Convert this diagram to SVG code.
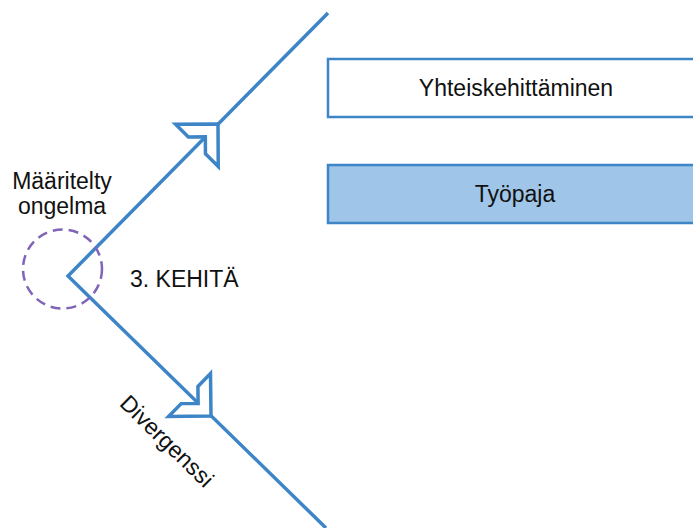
<svg xmlns="http://www.w3.org/2000/svg" width="693" height="528" viewBox="0 0 693 528">
  <style>
    .lbl { font-family: "Liberation Sans", Arial, sans-serif; font-size: 23px; fill: #111; }
    .flow { fill: none; stroke: #3d85c6; stroke-width: 3.5; stroke-linejoin: miter; }
    .head { fill: #ffffff; stroke: #3d85c6; stroke-width: 3.5; stroke-linejoin: miter; }
    .box { stroke: #3d85c6; stroke-width: 2.5; }
  </style>
  <defs>
    <!-- open notched arrowhead, tip at origin, pointing +x -->
    <path id="openHead" d="M0,0 L-30,-30 L-30,-12 L-18,0 L-30,12 L-30,30 Z"/>
  </defs>
  <rect width="693" height="528" fill="#ffffff"/>

  <!-- diverging V with its direction marks -->
  <g id="connectors">
    <polyline class="flow" points="328,13 68,276 326,528"/>
    <use href="#openHead" class="head" transform="translate(218,124) rotate(-45.33)"/>
    <use href="#openHead" class="head" transform="translate(211,416) rotate(44.33)"/>
  </g>

  <g id="problem">
    <circle cx="62.5" cy="269" r="39.5" fill="none" stroke="#8064b8" stroke-width="2.5" stroke-dasharray="10 6"/>
    <text class="lbl" x="62" y="189" text-anchor="middle">Määritelty</text>
    <text class="lbl" x="62" y="214" text-anchor="middle">ongelma</text>
  </g>

  <g id="phase">
    <text class="lbl" x="130" y="287">3. KEHITÄ</text>
  </g>

  <g id="divergence">
    <text class="lbl" transform="translate(167,441) rotate(44.33)" x="0" y="8" text-anchor="middle">Divergenssi</text>
  </g>

  <g id="codevelopment">
    <rect class="box" x="328" y="59" width="400" height="58" fill="#ffffff"/>
    <text class="lbl" x="516" y="96" text-anchor="middle">Yhteiskehittäminen</text>
  </g>

  <g id="workshop">
    <rect class="box" x="328" y="165" width="400" height="58" fill="#9fc5e8"/>
    <text class="lbl" x="515" y="202" text-anchor="middle">Työpaja</text>
  </g>
</svg>
